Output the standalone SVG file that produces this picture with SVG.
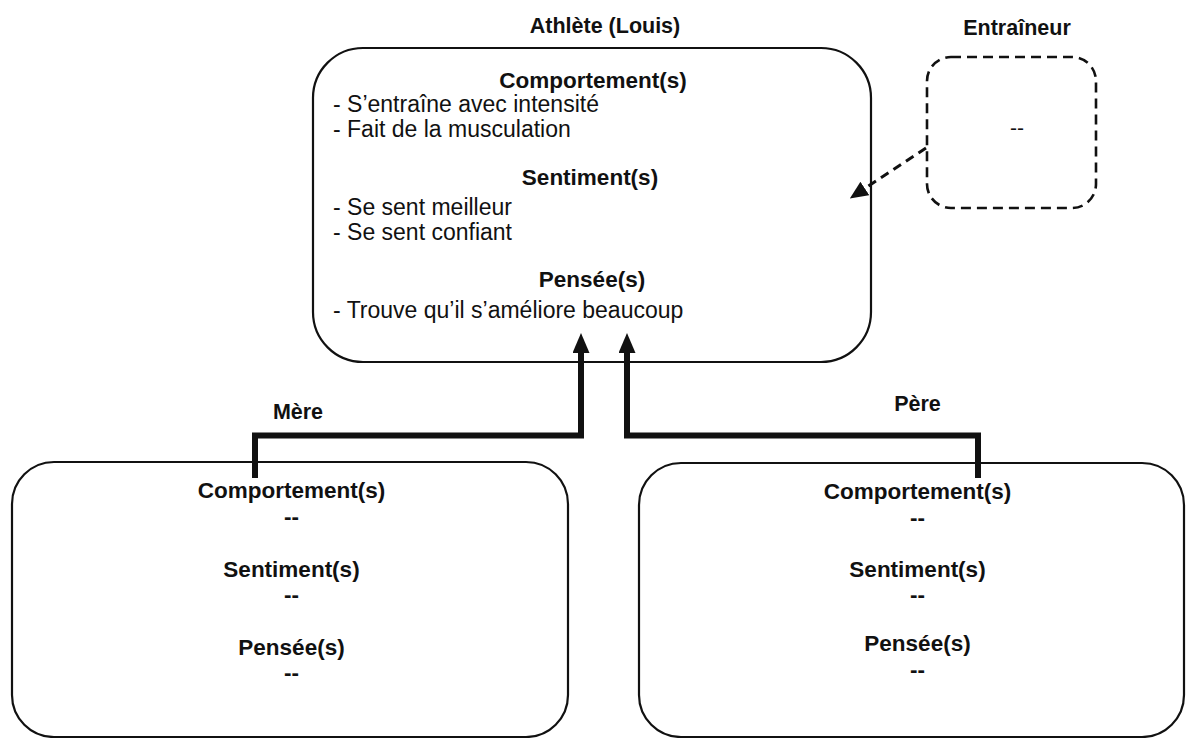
<svg xmlns="http://www.w3.org/2000/svg" width="1186" height="738" viewBox="0 0 1186 738">
  <style>
    text { font-family: "Liberation Sans", Arial, Helvetica, sans-serif; fill: #111; }
    .lbl { font-size: 21.5px; font-weight: bold; text-anchor: middle; }
    .hd { font-size: 22.5px; font-weight: bold; text-anchor: middle; }
    .item { font-size: 23px; }
    .empty { font-size: 21px; text-anchor: middle; }
    .box { fill: #fff; stroke: #111; stroke-width: 2.2; }
    .dashbox { fill: #fff; stroke: #111; stroke-width: 2.6; stroke-dasharray: 10 6; }
    .link { fill: none; stroke: #111; stroke-width: 6; stroke-linejoin: miter; }
    .dashlink { fill: none; stroke: #111; stroke-width: 3; stroke-dasharray: 9 6; }
  </style>
  <defs>
    <marker id="arrow" viewBox="0 0 20 17" refX="0" refY="8.5" markerWidth="20" markerHeight="17" markerUnits="userSpaceOnUse" orient="auto">
      <path d="M0,0 L20,8.5 L0,17 Z" fill="#111"/>
    </marker>
    <marker id="arrow-small" viewBox="0 0 18 16" refX="1" refY="8" markerWidth="18" markerHeight="16" markerUnits="userSpaceOnUse" orient="auto">
      <path d="M0,0 L18,8 L0,16 Z" fill="#111"/>
    </marker>
  </defs>

  <rect width="1186" height="738" fill="#fff"/>

  <!-- Athlete (central node) -->
  <g id="athlete">
    <text class="lbl" x="605" y="33">Athlète (Louis)</text>
    <rect class="box" x="313" y="48" width="558" height="314" rx="50" ry="50"/>
    <text class="hd" x="593" y="88">Comportement(s)</text>
    <text class="item" x="333" y="112">- S’entraîne avec intensité</text>
    <text class="item" x="333" y="137">- Fait de la musculation</text>
    <text class="hd" x="590" y="185">Sentiment(s)</text>
    <text class="item" x="333" y="215">- Se sent meilleur</text>
    <text class="item" x="333" y="240">- Se sent confiant</text>
    <text class="hd" x="592" y="287">Pensée(s)</text>
    <text class="item" x="333" y="318">- Trouve qu’il s’améliore beaucoup</text>
  </g>

  <!-- Coach (dashed node) -->
  <g id="entraineur">
    <text class="lbl" x="1017" y="35">Entraîneur</text>
    <rect class="dashbox" x="927" y="57" width="169" height="151" rx="24" ry="24"/>
    <text class="empty" x="1017" y="135">--</text>
  </g>

  <!-- Mother -->
  <g id="mere">
    <text class="lbl" x="298" y="419">Mère</text>
    <rect class="box" x="12" y="462" width="556" height="275" rx="42" ry="42"/>
    <text class="hd" x="291.5" y="498">Comportement(s)</text>
    <text class="hd" x="291.5" y="524">--</text>
    <text class="hd" x="291.5" y="577">Sentiment(s)</text>
    <text class="hd" x="291.5" y="602">--</text>
    <text class="hd" x="291.5" y="655">Pensée(s)</text>
    <text class="hd" x="291.5" y="680">--</text>
  </g>

  <!-- Father -->
  <g id="pere">
    <text class="lbl" x="917.5" y="411">Père</text>
    <rect class="box" x="639" y="463" width="545" height="274" rx="42" ry="42"/>
    <text class="hd" x="917.5" y="499">Comportement(s)</text>
    <text class="hd" x="917.5" y="525">--</text>
    <text class="hd" x="917.5" y="577">Sentiment(s)</text>
    <text class="hd" x="917.5" y="602">--</text>
    <text class="hd" x="917.5" y="651">Pensée(s)</text>
    <text class="hd" x="917.5" y="677">--</text>
  </g>

  <!-- Connectors -->
  <g id="connectors">
    <path class="link" d="M255,478 V435.5 H581 V353" marker-end="url(#arrow)"/>
    <path class="link" d="M978,478 V435.5 H627 V353" marker-end="url(#arrow)"/>
    <path class="dashlink" d="M926,148 L864,189" marker-end="url(#arrow-small)"/>
  </g>
</svg>
